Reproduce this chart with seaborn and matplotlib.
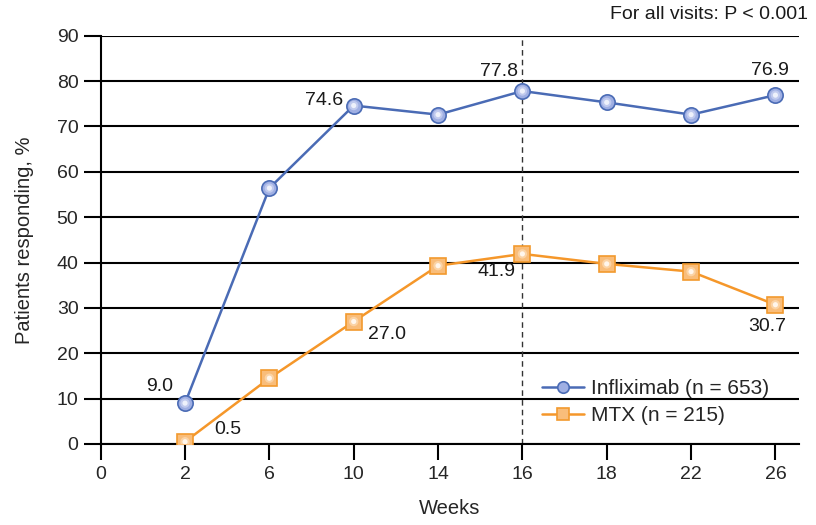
import pandas as pd
import seaborn as sns
import matplotlib.pyplot as plt

# data
weeks = ["0", "2", "6", "10", "14", "16", "18", "22", "26"]
infliximab = [9.0, 56.4, 74.6, 72.6, 77.8, 75.3, 72.6, 76.9]
mtx = [0.5, 14.5, 27.0, 39.3, 41.9, 39.7, 38.0, 30.7]
point_weeks = weeks[1:]

# labelled points: (series, week, text, offset in points)
value_labels = [
    ("inf", "2", "9.0", (-18, 12)),
    ("inf", "10", "74.6", (-21, 4)),
    ("inf", "16", "77.8", (-17, 14)),
    ("inf", "26", "76.9", (-4, 18)),
    ("mtx", "2", "0.5", (31, 9)),
    ("mtx", "10", "27.0", (24, -9)),
    ("mtx", "16", "41.9", (-19, -13)),
    ("mtx", "26", "30.7", (-6, -16)),
]

pos = {w: i for i, w in enumerate(weeks)}
df = pd.DataFrame({
    "pos": [pos[w] for w in point_weeks],
    "inf": infliximab,
    "mtx": mtx,
})

sns.set_theme(style="white")
plt.rcParams["font.family"] = ["Liberation Sans", "DejaVu Sans"]

fig = plt.figure(figsize=(8.16, 5.25), dpi=100)
ax = fig.add_axes([0.1234, 0.1543, 0.8558, 0.7777])

blue, blue_edge, blue_face = "#4a6bb5", "#4a6bb5", "#9fafe3"
orange, orange_edge, orange_face = "#f5972a", "#f29a2e", "#f9bd7a"

# grid lines first, so the data sits on top
ax.set_ylim(0, 90)
ax.set_xlim(0, 8.28)
ax.set_yticks(range(0, 91, 10))
ax.yaxis.grid(True, color="black", linewidth=1.5)
ax.set_axisbelow(True)

# dashed reference at week 16
ax.axvline(pos["16"], color="#333333", linestyle=(0, (4, 3)), linewidth=1.0, zorder=1)

sns.lineplot(data=df, x="pos", y="inf", ax=ax, color=blue, linewidth=1.8,
             marker="o", markersize=11, markerfacecolor=blue_face,
             markeredgecolor=blue_edge, markeredgewidth=1.2,
             label="Infliximab (n = 653)", zorder=4)
sns.lineplot(data=df, x="pos", y="mtx", ax=ax, color=orange, linewidth=1.8,
             marker="s", markersize=11, markerfacecolor=orange_face,
             markeredgecolor=orange_edge, markeredgewidth=1.2,
             label="MTX (n = 215)", zorder=4)
# soft highlight in the middle of the markers
ax.scatter(df["pos"], df["inf"], s=45, color="#c9d1f1", edgecolor="none", alpha=0.8, zorder=5)
ax.scatter(df["pos"], df["inf"], s=14, color="#eef1fb", edgecolor="none", zorder=5)
ax.scatter(df["pos"], df["mtx"], s=45, color="#fcd9b0", edgecolor="none", alpha=0.8, zorder=5)
ax.scatter(df["pos"], df["mtx"], s=14, color="#fff6ec", edgecolor="none", zorder=5)

for series, wk, txt, off in value_labels:
    yval = df.loc[df["pos"] == pos[wk], series].iloc[0]
    ax.annotate(txt, (pos[wk], yval), xytext=off, textcoords="offset points",
                ha="center", va="center", fontsize=14, color="#1a1a1a", zorder=6)

ax.set_xticks(range(len(weeks)))
ax.set_xticklabels(weeks)
ax.tick_params(axis="x", direction="out", length=11.5, width=1.5, color="black",
               labelsize=14, pad=4, bottom=True)
ax.tick_params(axis="y", direction="out", length=12, width=1.5, color="black",
               labelsize=14, pad=4, left=True)

for side in ["top", "right"]:
    ax.spines[side].set_visible(False)
for side in ["left", "bottom"]:
    ax.spines[side].set_color("black")
    ax.spines[side].set_linewidth(1.5)

ax.set_xlabel("Weeks", fontsize=14.5, labelpad=12)
ax.set_ylabel("Patients responding, %", fontsize=14.5, labelpad=16)

leg = ax.legend(loc="upper left", bbox_to_anchor=(0.62, 0.18), frameon=False,
                fontsize=15, handlelength=2.0, handletextpad=0.35,
                labelspacing=0.4, borderaxespad=0, markerscale=0.75)

fig.text(0.99, 0.972, "For all visits: P < 0.001", ha="right", va="center",
         fontsize=14, color="#1a1a1a")

fig.savefig("out.png", dpi=100)
